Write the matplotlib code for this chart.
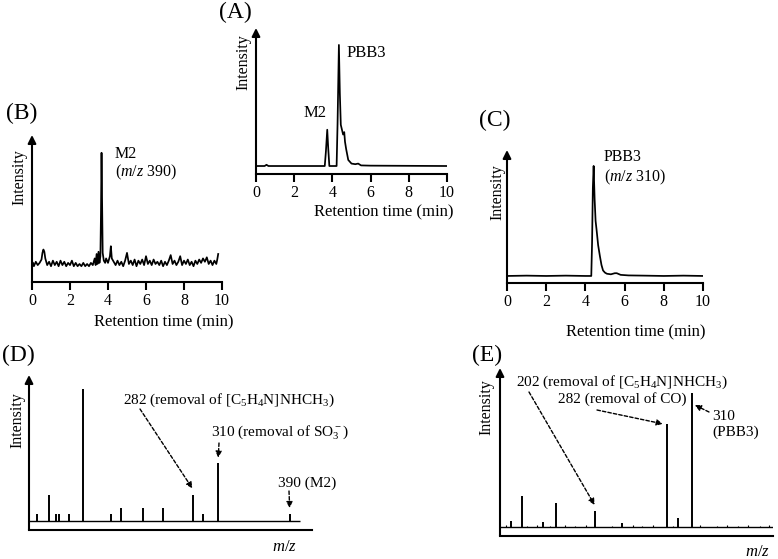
import matplotlib
matplotlib.use("Agg")
import matplotlib.pyplot as plt

plt.rcParams['font.family'] = 'Liberation Serif'
plt.rcParams['mathtext.fontset'] = 'custom'
plt.rcParams['mathtext.rm'] = 'Liberation Serif'
plt.rcParams['mathtext.it'] = 'Liberation Serif:italic'

# ---- data (intensities in % of the largest peak) ----
rt_ticks = [0, 2, 4, 6, 8, 10]

# (A) total chromatogram
a_time = [0, 0.45, 0.55, 0.65, 3.6, 3.66, 3.73, 3.78, 3.84, 4.22, 4.27, 4.34,
          4.39, 4.44, 4.5, 4.56, 4.62, 4.66, 4.72, 4.83, 5.0, 5.2, 5.35, 5.5,
          6.0, 10]
a_signal = [0, 0, 1, 0, 0, 12, 30, 15, 0, 0, 35, 100,
            60, 34, 30, 26, 28, 20, 14, 5, 2, 1.5, 2, 0.5,
            0.3, 0]

# (B) m/z 390 trace (M2)
b_time = [0.05, 0.1, 0.2, 0.3, 0.4, 0.5, 0.55, 0.6, 0.65, 0.7, 0.8, 0.9, 1.0,
          1.1, 1.2, 1.3, 1.4, 1.5, 1.6, 1.7, 1.8, 1.9, 2.0, 2.1, 2.2, 2.3,
          2.4, 2.5, 2.6, 2.7, 2.8, 2.9, 3.0, 3.1, 3.2, 3.3, 3.35, 3.4, 3.45,
          3.5, 3.55, 3.6, 3.63, 3.66, 3.69, 3.72, 3.78, 3.85, 3.9, 4.0, 4.1,
          4.15, 4.2, 4.3, 4.4, 4.5, 4.6, 4.7, 4.8, 4.9, 5.0, 5.1, 5.2, 5.3,
          5.4, 5.5, 5.6, 5.7, 5.8, 5.9, 6.0, 6.1, 6.2, 6.3, 6.4, 6.5, 6.6,
          6.7, 6.8, 6.9, 7.0, 7.1, 7.2, 7.3, 7.4, 7.5, 7.6, 7.7, 7.8, 7.9,
          8.0, 8.1, 8.2, 8.3, 8.4, 8.5, 8.6, 8.7, 8.8, 8.9, 9.0, 9.1, 9.2,
          9.3, 9.4, 9.5, 9.6, 9.7, 9.75, 9.8]
b_signal = [1, -2, 2, -1, 1, 4, 10, 13, 11, 5, -1, 2, -2,
            3, -1, 2, -2, 3, -1, 2, -2, 1, -1, 3, -2, 1,
            -2, 0, -2, 1, -2, 0, -2, 1, -1, 5, -1, 9, 0,
            11, 1, 7, 45, 100, 55, 10, 3, 1, 5, 1, 7,
            16, 5, 2, -1, 3, -1, 2, -2, 3, 10, 0, 3, -1,
            4, -2, 3, 0, 4, -1, 7, 0, 3, -1, 4, 0, 2,
            -1, 3, -2, 2, -1, 3, 8, 0, 3, -1, 2, 7, -1,
            3, 0, 4, -1, 2, -2, 3, 0, 4, 1, 5, 2, 6,
            0, 3, -1, 3, 0, 4, 9]

# (C) m/z 310 trace (PBB3)
c_time = [0, 1, 2, 3, 4, 4.3, 4.34, 4.38, 4.42, 4.47, 4.52, 4.57, 4.65, 4.74,
          4.82, 4.9, 5.0, 5.1, 5.3, 5.5, 5.6, 5.8, 6.2, 7, 8, 9, 10]
c_signal = [0, 0.3, 0, 0.3, 0, 0, 30, 80, 100, 70, 50, 42, 28, 18,
            10, 5, 3, 2, 1.5, 2.5, 2.5, 1, 0.5, 0.3, 0, 0.3, 0]

# (D) product-ion spectrum of M2
d_mz = [107, 120, 128, 132, 143, 158, 190, 201, 226, 248, 282, 293, 310, 390]
d_int = [5.3, 19.7, 5.3, 5.3, 5.3, 100, 5.3, 9.8, 9.8, 9.8, 19.7, 5.3, 44, 5.3]

# (E) product-ion spectrum of PBB3
e_mz = [107, 120, 143, 158, 202, 232, 282, 295, 310]
e_int = [4.5, 23, 3.7, 18, 12, 3, 77, 6.7, 100]
e_minor_mz = [102, 125, 136, 151, 168, 179, 191, 220, 244, 254, 266, 289,
              319, 338, 349, 362, 373, 386, 397]
e_minor_int = [1.5, 1, 1.5, 1, 1.5, 1, 1.5, 1, 1.5, 1, 1.5, 1,
               1.5, 1, 1.5, 1, 1.5, 1, 1.5]

# ---- layout helpers (pixel positions of the original 778x559 figure) ----
W, H = 778, 559
fig = plt.figure(figsize=(W / 100, H / 100), dpi=100)


def fpos(x, y):
    return x / W, 1 - y / H


def px_axes(left, right, axis_y, top):
    ax = fig.add_axes([left / W, 1 - axis_y / H, (right - left) / W, (axis_y - top) / H])
    for s in ('top', 'right', 'left'):
        ax.spines[s].set_visible(False)
    ax.spines['bottom'].set_linewidth(1.5)
    ax.patch.set_alpha(0)
    ax.set_yticks([])
    # y axis drawn as an arrow
    ax.annotate('', xy=(0, 1), xytext=(0, 0), xycoords='axes fraction',
                arrowprops=dict(arrowstyle='-|>', lw=1.5, color='k',
                                mutation_scale=12, shrinkA=0, shrinkB=0),
                annotation_clip=False)
    return ax


def chrom(ax, t, y, ylim):
    ax.plot(t, y, color='k', lw=1.25)
    ax.set_xlim(0, 10)
    ax.set_ylim(ylim)
    ax.set_xticks(rt_ticks)
    ax.tick_params(axis='x', direction='out', length=6, width=1.5,
                   labelsize=11.5, pad=2)


def spectrum(ax, mz, inten, xlim, base_end, ylim):
    ax.hlines(0, xlim[0], base_end, color='k', lw=1.0)
    ax.vlines(mz, 0, inten, color='k', lw=1.4)
    ax.set_xlim(xlim)
    ax.set_ylim(ylim)
    ax.set_xticks([])


def label(x, y, s, size=11, **kw):
    fig.text(*fpos(x, y), s, fontsize=size, va='center', **kw)


def dashed_arrow(ax, tip, tail_px):
    ax.annotate('', xy=tip, xycoords='data',
                xytext=fpos(*tail_px), textcoords='figure fraction',
                arrowprops=dict(arrowstyle='-|>', linestyle=(0, (2.5, 1.5)),
                                lw=1.0, color='k', mutation_scale=9,
                                shrinkA=0, shrinkB=0),
                annotation_clip=False)


# (A)
ax_a = px_axes(256, 447, 174, 28)
chrom(ax_a, a_time, a_signal, (-6.6, 114))
label(252, 12, '(A)', 17, ha='right')
label(243, 62, 'Intensity', 11.5, ha='center', rotation=90)
label(454, 212, 'Retention time (min)', 12, ha='right')
label(315, 113, 'M2', 12, ha='center')
label(347, 53, 'PBB3', 12, ha='left')

# (B)
ax_b = px_axes(32, 222, 282, 135)
chrom(ax_b, b_time, b_signal, (-16.2, 116))
label(37, 113, '(B)', 17, ha='right')
label(19, 177, 'Intensity', 11.5, ha='center', rotation=90)
label(234, 322, 'Retention time (min)', 12, ha='right')
label(115, 154, 'M2', 11.5, ha='left')
label(115, 172, '($m/z$ 390)', 11.5, ha='left')

# (C)
ax_c = px_axes(507, 703, 283, 150)
chrom(ax_c, c_time, c_signal, (-6.4, 114.5))
label(510, 120, '(C)', 17, ha='right')
label(497, 192, 'Intensity', 11.5, ha='center', rotation=90)
label(706, 332, 'Retention time (min)', 12, ha='right')
label(604, 157, 'PBB3', 11.5, ha='left')
label(604, 177, '($m/z$ 310)', 11.5, ha='left')

# (D)
ax_d = px_axes(29, 312, 530, 375)
spectrum(ax_d, d_mz, d_int, (98, 415), 402, (-6.8, 110.6))
label(35, 355, '(D)', 17, ha='right')
label(17, 420, 'Intensity', 11.5, ha='center', rotation=90)
label(284, 547, '$m/z$', 12, ha='center')
label(123, 400, '282 (removal of [C$_5$H$_4$N]NHCH$_3$)', 11, ha='left')
label(211, 432, '310 (removal of SO$_3^-$)', 11, ha='left')
label(278, 483, '390 (M2)', 11, ha='left')
dashed_arrow(ax_d, (d_mz[10] - 1, d_int[10] + 5), (140, 409))
dashed_arrow(ax_d, (d_mz[12], d_int[12] + 4), (219, 443))
dashed_arrow(ax_d, (d_mz[13], d_int[13] + 4.5), (289, 491))

# (E)
ax_e = px_axes(500, 773, 536, 368)
spectrum(ax_e, e_mz, e_int, (95, 401), 401, (-6.7, 118.7))
ax_e.vlines(e_minor_mz, 0, e_minor_int, color='k', lw=0.8)
label(502, 355, '(E)', 17, ha='right')
label(486, 407, 'Intensity', 11.5, ha='center', rotation=90)
label(757, 552, '$m/z$', 12, ha='center')
label(516, 382, '202 (removal of [C$_5$H$_4$N]NHCH$_3$)', 11, ha='left')
label(558, 399, '282 (removal of CO)', 11, ha='left')
label(712, 417, '310', 11, ha='left')
label(712, 432, '(PBB3)', 11, ha='left')
dashed_arrow(ax_e, (e_mz[4] - 1, e_int[4] + 4.5), (529, 392))
dashed_arrow(ax_e, (e_mz[6] - 4.5, e_int[6]), (597, 410))
dashed_arrow(ax_e, (e_mz[8] + 3.4, e_int[8] - 9), (709, 412))

fig.savefig('out.png', dpi=100)
